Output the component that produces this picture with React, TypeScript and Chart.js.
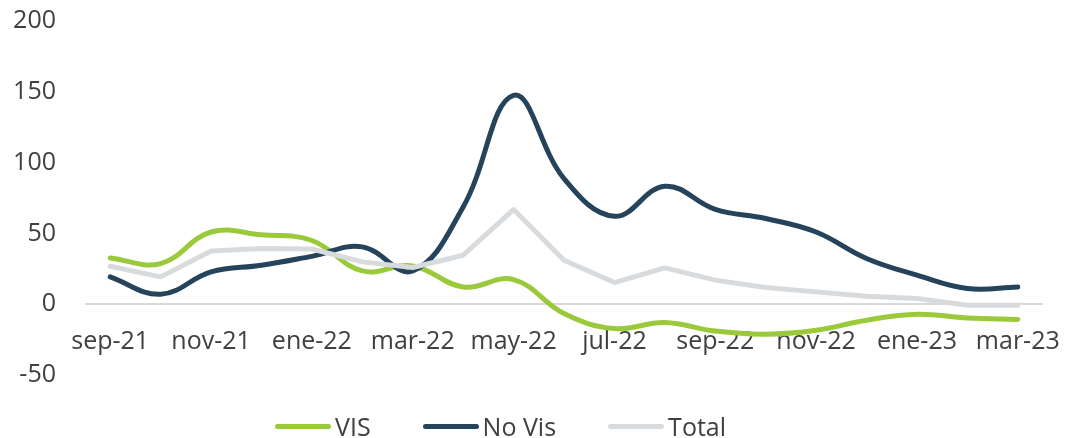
import React, { useEffect, useRef } from "react";
import { Chart, registerables } from "chart.js";

Chart.register(...registerables);

const months = [
  "sep-21", "oct-21", "nov-21", "dic-21", "ene-22", "feb-22", "mar-22",
  "abr-22", "may-22", "jun-22", "jul-22", "ago-22", "sep-22", "oct-22",
  "nov-22", "dic-22", "ene-23", "feb-23", "mar-23",
];
const visValues = [32.7, 28.7, 51, 49, 45, 23.5, 27, 12.2, 17.4, -6.6, -17.2, -12.9, -19, -21.2, -18.4, -11.3, -7.1, -9.7, -10.8];
const noVisValues = [19.3, 7, 22.8, 27.5, 33.8, 40.5, 23.5, 68.7, 147.5, 88.7, 62.1, 83.3, 67, 60.5, 51, 32.3, 20.5, 11.1, 12.2];
const totalValues = [26.8, 19.3, 37.6, 39.3, 39, 29.9, 25.9, 34.6, 66.8, 31, 15.3, 25.7, 17, 11.8, 8.7, 5.6, 4, -0.7, -0.7];
const seriesNames = ["VIS", "No Vis", "Total"];
const seriesColors = ["#9ACA3C", "#25445C", "#D8DBDE"];
const yMin = -50;
const yMax = 200;
const yStep = 50;

const FONT = "'Open Sans', sans-serif";
const TEXT = "#404040";
const FONT_SIZE = 25;

export default function App() {
  const canvasRef = useRef<HTMLCanvasElement | null>(null);

  useEffect(() => {
    const canvas = canvasRef.current;
    if (!canvas) return;
    const chart = new Chart(canvas, {
      type: "line",
      data: {
        labels: months,
        datasets: [
          {
            label: seriesNames[0],
            data: visValues,
            borderColor: seriesColors[0],
            backgroundColor: seriesColors[0],
            borderWidth: 5,
            tension: 0.4,
            pointRadius: 0,
            borderCapStyle: "round",
            borderJoinStyle: "round",
            order: 3,
          },
          {
            label: seriesNames[1],
            data: noVisValues,
            borderColor: seriesColors[1],
            backgroundColor: seriesColors[1],
            borderWidth: 5,
            tension: 0.4,
            pointRadius: 0,
            borderCapStyle: "round",
            borderJoinStyle: "round",
            order: 2,
          },
          {
            label: seriesNames[2],
            data: totalValues,
            borderColor: seriesColors[2],
            backgroundColor: seriesColors[2],
            borderWidth: 5,
            tension: 0,
            pointRadius: 0,
            borderCapStyle: "round",
            borderJoinStyle: "round",
            order: 1,
          },
        ],
      },
      options: {
        animation: false,
        responsive: true,
        maintainAspectRatio: false,
        layout: { padding: { top: 21, bottom: 63, left: 0, right: 23 } },
        plugins: {
          legend: { display: false },
          tooltip: { enabled: false },
        },
        scales: {
          x: {
            type: "category",
            offset: true,
            position: { y: 0 } as any,
            afterFit: (scale: any) => {
              scale.paddingLeft = 0;
              scale.paddingRight = 0;
            },
            grid: { display: false, drawTicks: false },
            border: { display: false },
            ticks: {
              autoSkip: false,
              maxRotation: 0,
              minRotation: 0,
              padding: 23,
              color: TEXT,
              font: { family: FONT, size: FONT_SIZE },
              callback: (_v: any, i: number) => (i % 2 === 0 ? months[i] : ""),
            },
          },
          y: {
            min: yMin,
            max: yMax,
            afterFit: (scale: any) => {
              scale.width = 85;
              scale.paddingTop = 0;
              scale.paddingBottom = 0;
            },
            grid: {
              drawTicks: false,
              lineWidth: 2,
              color: (ctx: any) => (ctx.tick && ctx.tick.value === 0 ? "#D9D9D9" : "rgba(0,0,0,0)"),
            },
            border: { display: false },
            ticks: {
              stepSize: yStep,
              padding: 29,
              color: TEXT,
              font: { family: FONT, size: FONT_SIZE },
            },
          },
        },
      },
    });
    return () => chart.destroy();
  }, []);

  const legendItem = (i: number) => (
    <div key={i} style={{ display: "flex", alignItems: "center", marginRight: 52 }}>
      <div
        style={{
          width: 56,
          height: 5,
          borderRadius: 3,
          background: seriesColors[i],
          marginRight: 4,
        }}
      />
      <span style={{ fontFamily: FONT, fontSize: FONT_SIZE, color: TEXT, lineHeight: "25px" }}>{seriesNames[i]}</span>
    </div>
  );

  return (
    <div style={{ position: "fixed", left: 0, top: 0, width: 1066, height: 438, background: "#fff" }}>
      <canvas ref={canvasRef} />
      <div
        style={{
          position: "absolute",
          left: 275,
          top: 414,
          height: 25,
          display: "flex",
          alignItems: "center",
          whiteSpace: "nowrap",
        }}
      >
        {[0, 1, 2].map(legendItem)}
      </div>
    </div>
  );
}
